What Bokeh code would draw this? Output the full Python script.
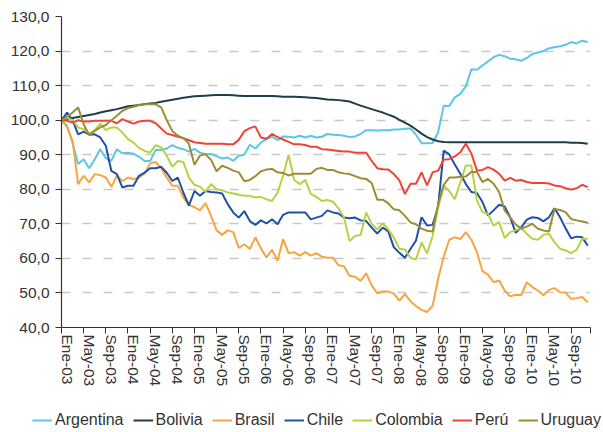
from bokeh.plotting import figure
from bokeh.models import Range1d, FixedTicker, Legend, LegendItem, LinearAxis
from bokeh.layouts import column
from bokeh.embed import file_html
from bokeh.resources import INLINE

# month index 0 = Ene-03 ... 95 = Dic-10
tick_pos = [0, 4, 8, 12, 16, 20, 24, 28, 32, 36, 40, 44, 48, 52, 56, 60, 64, 68, 72, 76, 80, 84, 88, 92]
tick_labels = ["Ene-03", "May-03", "Sep-03", "Ene-04", "May-04", "Sep-04", "Ene-05", "May-05",
               "Sep-05", "Ene-06", "May-06", "Sep-06", "Ene-07", "May-07", "Sep-07", "Ene-08",
               "May-08", "Sep-08", "Ene-09", "May-09", "Sep-09", "Ene-10", "May-10", "Sep-10"]
y_ticks = [40, 50, 60, 70, 80, 90, 100, 110, 120, 130]
y_labels = ["40,0", "50,0", "60,0", "70,0", "80,0", "90,0", "100,0", "110,0", "120,0", "130,0"]

argentina = [100, 98.4, 93.5, 87.3, 88.7, 86.1, 88.7, 91.6, 89.0, 88.2, 91.6, 90.4, 90.6, 90.3, 89.4, 88.2,
             88.2, 91.4, 91.4, 91.8, 92.8, 92.0, 91.6, 90.9, 91.7, 90.6, 90.2, 90.2, 89.6, 88.9, 89.2, 88.2,
             89.7, 90.0, 92.9, 91.8, 93.5, 94.5, 95.2, 94.2, 95.3, 95.2, 95.0, 95.5, 95.0, 95.5, 95.0, 95.2,
             96.0, 95.8, 95.7, 95.5, 95.1, 95.3, 96.0, 97.1, 97.1, 97.0, 97.1, 97.1, 97.3, 97.3, 97.5, 97.6,
             95.8, 93.3, 93.3, 93.4, 96.5, 104.2, 104.1, 106.6, 107.6, 109.8, 114.7, 114.6, 115.8, 117.0, 118.2, 118.9,
             118.5, 117.8, 117.6, 117.2, 118.0, 119.1, 119.6, 120.0, 120.8, 121.1, 121.4, 121.8, 122.6, 122.2, 123.0, 122.6]
bolivia = [100, 100.3, 100.6, 100.9, 101.2, 101.5, 101.8, 102.2, 102.6, 102.9, 103.2, 103.6, 104.0, 104.2, 104.4, 104.6,
           104.8, 105.0, 105.3, 105.6, 105.9, 106.2, 106.5, 106.7, 106.9, 107.0, 107.1, 107.2, 107.3, 107.3, 107.3, 107.2,
           107.1, 107.0, 107.0, 107.0, 107.0, 107.0, 107.0, 106.9, 106.8, 106.8, 106.8, 106.7, 106.6, 106.5, 106.4, 106.2,
           106.0, 105.9, 105.8, 105.6, 105.4, 104.8, 104.2, 103.7, 103.2, 102.7, 102.2, 101.6, 101.0, 100.1, 99.3, 98.4,
           97.3, 96.1, 95.1, 94.4, 93.9, 93.7, 93.6, 93.6, 93.6, 93.6, 93.6, 93.6, 93.6, 93.6, 93.6, 93.6,
           93.6, 93.6, 93.6, 93.6, 93.6, 93.6, 93.6, 93.6, 93.6, 93.6, 93.6, 93.6, 93.5, 93.5, 93.4, 93.2]
brasil = [100, 98.0, 94.0, 81.5, 83.9, 82.0, 84.4, 84.1, 83.4, 80.7, 83.9, 82.4, 83.4, 82.9, 83.4, 84.6,
          87.5, 87.9, 86.1, 83.4, 81.0, 81.0, 77.6, 75.5, 74.8, 73.9, 76.0, 72.3, 68.1, 66.8, 68.1, 67.6,
          63.0, 64.1, 62.7, 66.1, 62.9, 60.3, 62.5, 59.3, 65.6, 61.5, 61.8, 60.8, 61.8, 60.8, 61.5, 60.5,
          60.2, 60.2, 58.0, 57.7, 55.0, 54.7, 53.5, 55.7, 52.2, 49.9, 50.4, 50.4, 49.8, 47.8, 49.7, 47.6,
          46.2, 45.1, 44.5, 46.3, 54.2, 60.5, 65.4, 66.1, 65.6, 67.6, 65.4, 61.8, 56.3, 55.3, 53.1, 53.6,
          50.7, 49.0, 49.5, 49.4, 53.1, 51.7, 50.7, 49.3, 50.9, 51.4, 50.2, 50.1, 48.3, 48.5, 48.8, 47.3]
chile = [100, 102.2, 100.0, 95.9, 96.7, 95.8, 95.9, 95.0, 92.6, 85.3, 84.4, 80.5, 81.0, 81.0, 83.9, 84.8,
         86.1, 86.1, 86.5, 84.8, 82.4, 83.4, 79.0, 75.3, 79.5, 78.1, 79.5, 79.2, 79.1, 78.8, 75.7, 73.3,
         71.8, 73.7, 70.8, 69.7, 71.0, 70.1, 71.3, 69.9, 72.6, 73.3, 73.3, 73.3, 73.3, 71.3, 71.8, 72.3,
         73.9, 73.3, 73.0, 71.8, 71.6, 71.8, 71.0, 70.8, 68.9, 67.2, 68.9, 67.8, 63.2, 61.6, 60.2, 62.7,
         65.2, 71.9, 69.5, 69.7, 75.0, 91.2, 90.1, 87.2, 84.5, 81.5, 79.2, 78.9, 76.3, 72.4, 73.9, 75.5,
         75.0, 71.9, 67.4, 69.0, 71.2, 71.9, 71.7, 70.7, 71.9, 74.5, 71.9, 68.7, 65.8, 66.3, 66.1, 63.7]
colombia = [100, 100.6, 100.0, 97.9, 97.4, 96.1, 97.1, 99.0, 97.1, 97.9, 97.9, 96.4, 94.5, 93.5, 91.9, 91.1,
            90.6, 92.8, 92.1, 89.7, 86.5, 88.2, 87.9, 83.4, 81.3, 80.7, 79.3, 81.5, 80.0, 79.7, 79.1, 78.8,
            78.4, 78.1, 78.1, 77.6, 77.8, 77.1, 76.6, 79.0, 84.0, 90.0, 82.7, 81.5, 82.7, 78.7, 77.8, 76.6,
            76.9, 76.4, 74.5, 71.8, 65.0, 66.5, 66.8, 73.3, 69.9, 68.4, 70.1, 68.4, 66.0, 62.8, 62.6, 60.2,
            59.7, 64.6, 61.4, 66.5, 74.7, 81.0, 79.5, 77.1, 82.0, 86.9, 86.9, 76.8, 73.4, 72.9, 69.5, 70.5,
            65.9, 67.6, 68.1, 68.8, 67.1, 65.7, 65.4, 66.8, 67.1, 64.7, 62.8, 62.3, 61.5, 62.5, 65.7, 65.7]
peru = [100, 99.8, 99.3, 100.0, 99.6, 99.6, 99.8, 99.8, 99.8, 99.8, 99.1, 100.3, 99.6, 99.0, 99.6, 99.8,
        99.8, 99.1, 97.6, 96.1, 95.7, 95.2, 94.8, 94.2, 93.6, 93.4, 93.2, 93.2, 93.2, 93.2, 93.0, 93.0,
        94.3, 96.8, 97.7, 98.2, 95.0, 94.6, 96.0, 95.1, 94.4, 93.7, 93.0, 93.0, 92.8, 92.3, 92.3, 91.6,
        91.5, 91.3, 91.1, 90.9, 90.9, 90.6, 90.6, 90.6, 88.2, 86.1, 85.8, 85.7, 84.4, 82.6, 78.6, 81.6,
        81.6, 84.9, 81.1, 84.9, 85.4, 88.6, 88.7, 89.5, 90.7, 93.2, 90.3, 85.4, 85.6, 86.4, 85.7, 84.5,
        82.5, 83.3, 82.5, 82.7, 82.1, 81.8, 81.8, 81.8, 81.7, 81.1, 80.9, 80.3, 79.9, 80.3, 81.3, 80.6]
uruguay = [100, 101.0, 102.2, 103.7, 98.8, 95.7, 96.9, 97.9, 98.6, 100.0, 101.3, 102.7, 103.5, 103.9, 104.4, 104.6,
           104.6, 104.6, 103.7, 100.0, 96.9, 95.5, 94.8, 93.2, 87.1, 89.8, 90.1, 88.5, 85.2, 86.8, 86.2, 85.4,
           84.9, 82.3, 82.7, 83.8, 85.2, 85.7, 85.9, 84.9, 84.7, 84.0, 84.5, 84.5, 84.5, 84.5, 85.9, 86.2,
           85.6, 85.6, 84.9, 84.6, 84.4, 83.8, 83.2, 83.0, 81.8, 77.0, 77.0, 75.9, 74.2, 73.9, 72.3, 70.4,
           69.9, 68.6, 68.0, 67.8, 75.7, 81.3, 83.4, 83.4, 83.6, 83.7, 85.0, 85.0, 82.1, 83.0, 81.6, 79.2,
           73.9, 71.9, 69.8, 68.6, 69.2, 70.0, 68.6, 68.1, 67.8, 74.3, 74.0, 73.4, 71.4, 71.0, 70.7, 70.3]

names = ["Argentina", "Bolivia", "Brasil", "Chile", "Colombia", "Perú", "Uruguay"]
series = [argentina, bolivia, brasil, chile, colombia, peru, uruguay]
colors = ["#5CC6E6", "#1F3D4A", "#F8A540", "#2150A6", "#B5D243", "#EE4436", "#9C8D32"]

months = list(range(len(argentina)))

FONT = "Liberation Sans"
TXT = "#333333"

p = figure(width=603, height=403, output_backend="svg", toolbar_location=None,
           x_range=Range1d(0, 95.5), y_range=Range1d(40, 130),
           min_border_left=61, min_border_right=13, min_border_top=16, min_border_bottom=76)
p.outline_line_color = None
p.background_fill_color = "white"
p.xgrid.visible = False
p.ygrid.grid_line_color = "#c8c8c8"
p.ygrid.grid_line_dash = "9 12"
p.ygrid.grid_line_width = 1.3

p.yaxis.ticker = FixedTicker(ticks=y_ticks)
p.yaxis.major_label_overrides = {t: l for t, l in zip(y_ticks, y_labels)}

# main x axis: line and tick marks only
p.xaxis.ticker = FixedTicker(ticks=tick_pos + [95.5])
ov = {t: "" for t in tick_pos}
ov[95.5] = ""
p.xaxis.major_label_overrides = ov
p.xaxis.major_label_standoff = 0

for ax in (p.xaxis, p.yaxis):
    ax.axis_line_color = "#333333"
    ax.axis_line_width = 1.2
    ax.major_tick_line_color = "#333333"
    ax.major_tick_out = 6
    ax.major_tick_in = 0
    ax.minor_tick_out = 0
    ax.minor_tick_in = 0
    ax.major_label_text_font = FONT
    ax.major_label_text_font_size = "15.5px"
    ax.major_label_text_color = TXT
p.yaxis.major_label_standoff = 6

# label axis: labels sit just right of their tick, as in the original
p.extra_x_ranges = {"lab": Range1d(-1, 94.5)}
lab_axis = LinearAxis(x_range_name="lab", ticker=FixedTicker(ticks=tick_pos),
                      major_label_overrides={t: l for t, l in zip(tick_pos, tick_labels)},
                      major_label_orientation="vertical", major_label_standoff=1,
                      axis_line_color=None, major_tick_line_color=None,
                      major_tick_in=0, major_tick_out=0, minor_tick_in=0, minor_tick_out=0,
                      major_label_text_font=FONT, major_label_text_font_size="15.5px",
                      major_label_text_color=TXT)
p.add_layout(lab_axis, "below")

for name, vals, col in zip(names, series, colors):
    p.line(months, vals, line_color=col, line_width=2)

# legend strip under the chart
leg = figure(width=603, height=29, output_backend="svg", toolbar_location=None,
             x_axis_type=None, y_axis_type=None, x_range=Range1d(0, 1), y_range=Range1d(0, 1),
             min_border=0, min_border_left=0, min_border_right=0, min_border_top=0, min_border_bottom=0)
leg.outline_line_color = None
leg.xgrid.visible = False
leg.ygrid.visible = False
loc_x = 32 - 61
if "frame_align" in type(leg).properties():
    leg.frame_align = False
    p.frame_align = False
    loc_x = 32
items = []
for name, col in zip(names, colors):
    r = leg.line([-5, -4], [-5, -4], line_color=col, line_width=2)
    items.append(LegendItem(label=name, renderers=[r]))
legend = Legend(items=items, orientation="horizontal", location=(loc_x, 3),
                glyph_width=20, glyph_height=16, label_standoff=3, spacing=9,
                padding=0, margin=0, border_line_color=None, background_fill_alpha=0,
                label_text_font=FONT, label_text_font_size="16px", label_text_color=TXT,
                label_height=16)
leg.add_layout(legend)

layout = column(p, leg, spacing=0)
open("out.html", "w").write(file_html(layout, INLINE))
